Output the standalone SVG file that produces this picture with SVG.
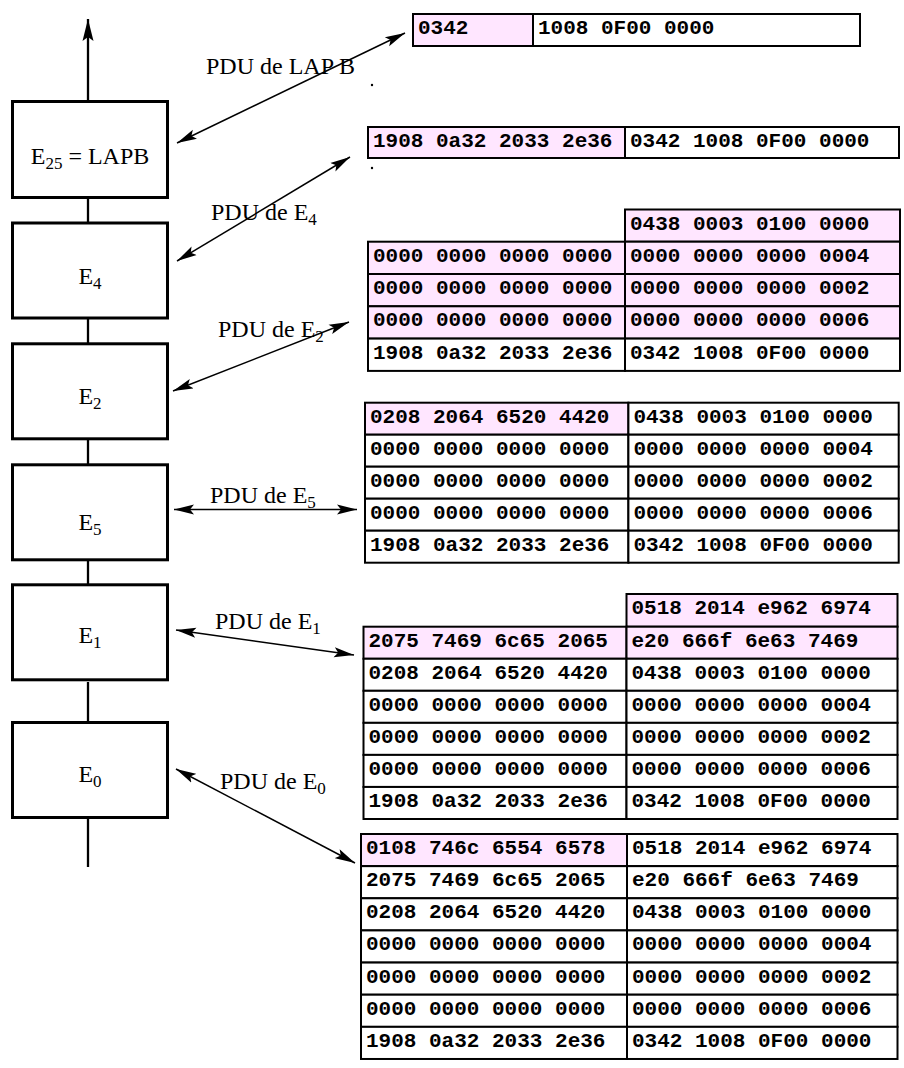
<svg xmlns="http://www.w3.org/2000/svg" width="904" height="1068" viewBox="0 0 904 1068">
<style>
.bg{fill:#fff}
.box{fill:#fff;stroke:#000;stroke-width:3}
.lbl{font-family:"Liberation Serif","Times New Roman",serif;font-size:24px;fill:#000}
.sub{font-size:17px}
.cell{stroke:#000;stroke-width:2}
.pk{fill:#ffe6ff}
.wh{fill:#fff}
.hex{font-family:"Liberation Mono","Courier New",monospace;font-weight:bold;font-size:21px;fill:#000}
.link{stroke:#000;stroke-width:2.3;fill:none}
.arr{stroke:#000;stroke-width:1.5;fill:none;marker-start:url(#ah);marker-end:url(#ah)}
</style>
<defs>
<marker id="ah" markerUnits="userSpaceOnUse" markerWidth="22" markerHeight="12" refX="20" refY="6" orient="auto-start-reverse" viewBox="0 0 22 12"><path d="M0,1 L20,6 L0,11 L4,6 Z" fill="#000"/></marker>
<marker id="up" markerUnits="userSpaceOnUse" markerWidth="24" markerHeight="14" refX="22" refY="6" orient="auto" viewBox="0 0 24 12"><path d="M0,0.5 L22,6 L0,11.5 L4,6 Z" fill="#000"/></marker>
</defs>
<rect class="bg" x="0" y="0" width="904" height="1068"/>

<g id="connectors">
<line class="link" x1="88" y1="100" x2="88" y2="19" marker-end="url(#up)"/>
<line class="link" x1="88" y1="199" x2="88" y2="222"/>
<line class="link" x1="88" y1="318" x2="88" y2="343"/>
<line class="link" x1="88" y1="440" x2="88" y2="464"/>
<line class="link" x1="88" y1="561" x2="88" y2="584"/>
<line class="link" x1="88" y1="682" x2="88" y2="722"/>
<line class="link" x1="88" y1="819" x2="88" y2="867"/>
<line class="arr" x1="177" y1="143" x2="405" y2="33"/>
<line class="arr" x1="177" y1="261" x2="350" y2="157"/>
<line class="arr" x1="173" y1="391" x2="349" y2="322"/>
<line class="arr" x1="174" y1="509.5" x2="357" y2="509.5"/>
<line class="arr" x1="176" y1="630" x2="354" y2="655"/>
<line class="arr" x1="176" y1="769" x2="355" y2="863"/>
</g>

<g id="E25">
<rect class="box" x="12.5" y="101.5" width="155" height="96"/>
<text class="lbl" x="90" y="164" text-anchor="middle">E<tspan class="sub" dy="5">25</tspan><tspan dy="-5"> = LAPB</tspan></text>
</g>
<g id="E4">
<rect class="box" x="12.5" y="223" width="155" height="95"/>
<text class="lbl" x="90" y="284" text-anchor="middle">E<tspan class="sub" dy="5">4</tspan></text>
</g>
<g id="E2">
<rect class="box" x="12.5" y="343.8" width="155" height="95"/>
<text class="lbl" x="90" y="404" text-anchor="middle">E<tspan class="sub" dy="5">2</tspan></text>
</g>
<g id="E5">
<rect class="box" x="12.5" y="464.8" width="155" height="95"/>
<text class="lbl" x="90" y="530" text-anchor="middle">E<tspan class="sub" dy="5">5</tspan></text>
</g>
<g id="E1">
<rect class="box" x="12.5" y="584.8" width="155" height="95"/>
<text class="lbl" x="90" y="643" text-anchor="middle">E<tspan class="sub" dy="5">1</tspan></text>
</g>
<g id="E0">
<rect class="box" x="12.5" y="722.5" width="155" height="95"/>
<text class="lbl" x="90" y="782" text-anchor="middle">E<tspan class="sub" dy="5">0</tspan></text>
</g>

<g id="labels">
<text class="lbl" x="206" y="74">PDU de LAP B</text>
<text class="lbl" x="211" y="220">PDU de E<tspan class="sub" dy="5">4</tspan></text>
<text class="lbl" x="218" y="337">PDU de E<tspan class="sub" dy="5">2</tspan></text>
<text class="lbl" x="210" y="503">PDU de E<tspan class="sub" dy="5">5</tspan></text>
<text class="lbl" x="215" y="629">PDU de E<tspan class="sub" dy="5">1</tspan></text>
<text class="lbl" x="220" y="789">PDU de E<tspan class="sub" dy="5">0</tspan></text>
<circle cx="372" cy="85" r="1.2" fill="#000"/>
<circle cx="372" cy="168" r="1.2" fill="#000"/>
</g>

<g id="pdu-lapb">
<rect class="cell pk" x="413" y="14" width="120" height="32"/>
<rect class="cell wh" x="533" y="14" width="327" height="32"/>
<text class="hex" x="418" y="34">0342</text>
<text class="hex" x="538" y="34">1008 0F00 0000</text>
</g>

<g id="pdu-e4">
<rect class="cell pk" x="368" y="127" width="257" height="31"/>
<rect class="cell wh" x="625" y="127" width="274" height="31"/>
<text class="hex" x="373" y="147">1908 0a32 2033 2e36</text>
<text class="hex" x="630" y="147">0342 1008 0F00 0000</text>
</g>

<g id="pdu-e2">
<rect class="cell pk" x="625" y="209.5" width="275" height="32.2"/>
<text class="hex" x="630" y="229.5">0438 0003 0100 0000</text>
<rect class="cell pk" x="368" y="241.7" width="257" height="32.3"/>
<rect class="cell pk" x="625" y="241.7" width="275" height="32.3"/>
<text class="hex" x="373" y="261.7">0000 0000 0000 0000</text>
<text class="hex" x="630" y="261.7">0000 0000 0000 0004</text>
<rect class="cell pk" x="368" y="274" width="257" height="32.3"/>
<rect class="cell pk" x="625" y="274" width="275" height="32.3"/>
<text class="hex" x="373" y="294">0000 0000 0000 0000</text>
<text class="hex" x="630" y="294">0000 0000 0000 0002</text>
<rect class="cell pk" x="368" y="306.3" width="257" height="32.3"/>
<rect class="cell pk" x="625" y="306.3" width="275" height="32.3"/>
<text class="hex" x="373" y="326.3">0000 0000 0000 0000</text>
<text class="hex" x="630" y="326.3">0000 0000 0000 0006</text>
<rect class="cell wh" x="368" y="338.6" width="257" height="32.3"/>
<rect class="cell wh" x="625" y="338.6" width="275" height="32.3"/>
<text class="hex" x="373" y="358.6">1908 0a32 2033 2e36</text>
<text class="hex" x="630" y="358.6">0342 1008 0F00 0000</text>
</g>

<g id="pdu-e5">
<rect class="cell pk" x="365" y="402.7" width="263.4" height="32"/>
<rect class="cell wh" x="628.4" y="402.7" width="270.3" height="32"/>
<text class="hex" x="370" y="422.7">0208 2064 6520 4420</text>
<text class="hex" x="633.4" y="422.7">0438 0003 0100 0000</text>
<rect class="cell wh" x="365" y="434.7" width="263.4" height="32"/>
<rect class="cell wh" x="628.4" y="434.7" width="270.3" height="32"/>
<text class="hex" x="370" y="454.7">0000 0000 0000 0000</text>
<text class="hex" x="633.4" y="454.7">0000 0000 0000 0004</text>
<rect class="cell wh" x="365" y="466.7" width="263.4" height="32"/>
<rect class="cell wh" x="628.4" y="466.7" width="270.3" height="32"/>
<text class="hex" x="370" y="486.7">0000 0000 0000 0000</text>
<text class="hex" x="633.4" y="486.7">0000 0000 0000 0002</text>
<rect class="cell wh" x="365" y="498.7" width="263.4" height="32"/>
<rect class="cell wh" x="628.4" y="498.7" width="270.3" height="32"/>
<text class="hex" x="370" y="518.7">0000 0000 0000 0000</text>
<text class="hex" x="633.4" y="518.7">0000 0000 0000 0006</text>
<rect class="cell wh" x="365" y="530.7" width="263.4" height="32"/>
<rect class="cell wh" x="628.4" y="530.7" width="270.3" height="32"/>
<text class="hex" x="370" y="550.7">1908 0a32 2033 2e36</text>
<text class="hex" x="633.4" y="550.7">0342 1008 0F00 0000</text>
</g>

<g id="pdu-e1">
<rect class="cell pk" x="626.5" y="594" width="271" height="32.7"/>
<text class="hex" x="631.5" y="614">0518 2014 e962 6974</text>
<rect class="cell pk" x="363.5" y="626.7" width="263" height="32.05"/>
<rect class="cell pk" x="626.5" y="626.7" width="271" height="32.05"/>
<text class="hex" x="368.5" y="646.7">2075 7469 6c65 2065</text>
<text class="hex" x="631.5" y="646.7">e20 666f 6e63 7469</text>
<rect class="cell wh" x="363.5" y="658.75" width="263" height="32.05"/>
<rect class="cell wh" x="626.5" y="658.75" width="271" height="32.05"/>
<text class="hex" x="368.5" y="678.75">0208 2064 6520 4420</text>
<text class="hex" x="631.5" y="678.75">0438 0003 0100 0000</text>
<rect class="cell wh" x="363.5" y="690.8" width="263" height="32.05"/>
<rect class="cell wh" x="626.5" y="690.8" width="271" height="32.05"/>
<text class="hex" x="368.5" y="710.8">0000 0000 0000 0000</text>
<text class="hex" x="631.5" y="710.8">0000 0000 0000 0004</text>
<rect class="cell wh" x="363.5" y="722.85" width="263" height="32.05"/>
<rect class="cell wh" x="626.5" y="722.85" width="271" height="32.05"/>
<text class="hex" x="368.5" y="742.85">0000 0000 0000 0000</text>
<text class="hex" x="631.5" y="742.85">0000 0000 0000 0002</text>
<rect class="cell wh" x="363.5" y="754.9" width="263" height="32.05"/>
<rect class="cell wh" x="626.5" y="754.9" width="271" height="32.05"/>
<text class="hex" x="368.5" y="774.9">0000 0000 0000 0000</text>
<text class="hex" x="631.5" y="774.9">0000 0000 0000 0006</text>
<rect class="cell wh" x="363.5" y="786.95" width="263" height="32.05"/>
<rect class="cell wh" x="626.5" y="786.95" width="271" height="32.05"/>
<text class="hex" x="368.5" y="806.95">1908 0a32 2033 2e36</text>
<text class="hex" x="631.5" y="806.95">0342 1008 0F00 0000</text>
</g>

<g id="pdu-e0">
<rect class="cell pk" x="361" y="834" width="266" height="32.14"/>
<rect class="cell wh" x="627" y="834" width="270.5" height="32.14"/>
<text class="hex" x="366" y="854">0108 746c 6554 6578</text>
<text class="hex" x="632" y="854">0518 2014 e962 6974</text>
<rect class="cell wh" x="361" y="866.14" width="266" height="32.14"/>
<rect class="cell wh" x="627" y="866.14" width="270.5" height="32.14"/>
<text class="hex" x="366" y="886.1">2075 7469 6c65 2065</text>
<text class="hex" x="632" y="886.1">e20 666f 6e63 7469</text>
<rect class="cell wh" x="361" y="898.28" width="266" height="32.14"/>
<rect class="cell wh" x="627" y="898.28" width="270.5" height="32.14"/>
<text class="hex" x="366" y="918.3">0208 2064 6520 4420</text>
<text class="hex" x="632" y="918.3">0438 0003 0100 0000</text>
<rect class="cell wh" x="361" y="930.42" width="266" height="32.14"/>
<rect class="cell wh" x="627" y="930.42" width="270.5" height="32.14"/>
<text class="hex" x="366" y="950.4">0000 0000 0000 0000</text>
<text class="hex" x="632" y="950.4">0000 0000 0000 0004</text>
<rect class="cell wh" x="361" y="962.56" width="266" height="32.14"/>
<rect class="cell wh" x="627" y="962.56" width="270.5" height="32.14"/>
<text class="hex" x="366" y="982.6">0000 0000 0000 0000</text>
<text class="hex" x="632" y="982.6">0000 0000 0000 0002</text>
<rect class="cell wh" x="361" y="994.7" width="266" height="32.14"/>
<rect class="cell wh" x="627" y="994.7" width="270.5" height="32.14"/>
<text class="hex" x="366" y="1014.7">0000 0000 0000 0000</text>
<text class="hex" x="632" y="1014.7">0000 0000 0000 0006</text>
<rect class="cell wh" x="361" y="1026.84" width="266" height="32.14"/>
<rect class="cell wh" x="627" y="1026.84" width="270.5" height="32.14"/>
<text class="hex" x="366" y="1046.8">1908 0a32 2033 2e36</text>
<text class="hex" x="632" y="1046.8">0342 1008 0F00 0000</text>
</g>
</svg>
